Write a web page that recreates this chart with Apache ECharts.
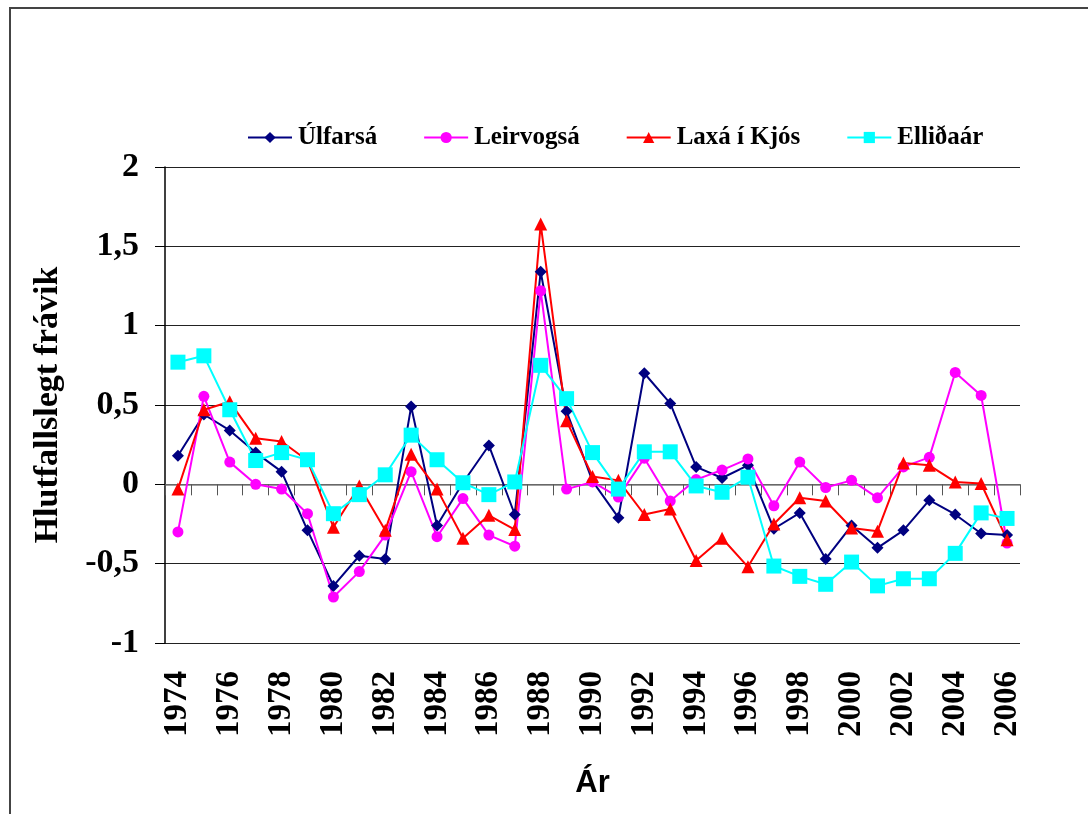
<!DOCTYPE html>
<html>
<head>
<meta charset="utf-8">
<script src="https://cdn.jsdelivr.net/npm/echarts@6/dist/echarts.min.js"></script>
<style>
  html, body { margin: 0; padding: 0; background: #fff; }
  #chart { width: 1088px; height: 814px; }
</style>
</head>
<body>
<div id="chart"></div>
<script>
// Years on the category axis
const years = [
  '1974','1975','1976','1977','1978','1979','1980','1981','1982','1983','1984',
  '1985','1986','1987','1988','1989','1990','1991','1992','1993','1994','1995',
  '1996','1997','1998','1999','2000','2001','2002','2003','2004','2005','2006'
];

// Relative deviation per river
const ulfarsa = [
  0.18, 0.44, 0.34, 0.20, 0.08, -0.29, -0.64, -0.45, -0.47, 0.49, -0.26,
  0.01, 0.245, -0.19, 1.34, 0.46, 0.02, -0.21, 0.70, 0.51, 0.11, 0.04,
  0.12, -0.28, -0.18, -0.47, -0.26, -0.40, -0.29, -0.10, -0.19, -0.31, -0.32
];
const leirvogsa = [
  -0.30, 0.555, 0.14, 0.00, -0.03, -0.185, -0.71, -0.55, -0.32, 0.08, -0.33,
  -0.09, -0.32, -0.39, 1.22, -0.03, 0.015, -0.08, 0.165, -0.105, 0.03, 0.09,
  0.16, -0.135, 0.14, -0.02, 0.025, -0.085, 0.11, 0.17, 0.705, 0.56, -0.37
];
const laxaIKjos = [
  -0.03, 0.47, 0.52, 0.29, 0.27, 0.15, -0.27, -0.01, -0.29, 0.19, -0.03,
  -0.34, -0.195, -0.285, 1.64, 0.40, 0.05, 0.025, -0.19, -0.155, -0.48, -0.34,
  -0.52, -0.25, -0.085, -0.105, -0.275, -0.295, 0.135, 0.12, 0.015, 0.005, -0.35
];
const ellidaar = [
  0.77, 0.81, 0.47, 0.15, 0.20, 0.155, -0.185, -0.065, 0.06, 0.31, 0.155,
  0.01, -0.065, 0.015, 0.75, 0.54, 0.20, -0.03, 0.205, 0.205, -0.01, -0.05,
  0.045, -0.515, -0.58, -0.63, -0.49, -0.64, -0.595, -0.595, -0.435, -0.18, -0.215
];

const yTicks = { min: -1, max: 2, interval: 0.5 };

const serifBold = { fontFamily: '"Liberation Serif", "Times New Roman", serif', fontWeight: 'bold', color: '#000' };

function lineSeries(name, data, color, symbol, size) {
  return {
    name, type: 'line', data,
    symbol, symbolSize: size,
    lineStyle: { color, width: 2 },
    itemStyle: { color },
    emphasis: { disabled: true },
    animation: false
  };
}

const chart = echarts.init(document.getElementById('chart'), null, { renderer: 'canvas' });

chart.setOption({
  backgroundColor: '#fff',
  animation: false,
  graphic: [{
    type: 'rect',
    shape: { x: 10, y: 8, width: 1100, height: 830 },
    style: { fill: 'none', stroke: '#444', lineWidth: 2 },
    silent: true
  }],
  legend: {
    top: 120,
    left: 242,
    itemWidth: 44,
    itemHeight: 14,
    itemGap: 46,
    textStyle: Object.assign({}, serifBold, { fontSize: 25, padding: [0, 0, 0, 1] }),
    data: ['Úlfarsá', 'Leirvogsá', 'Laxá í Kjós', 'Elliðaár']
  },
  grid: { left: 165, right: 68, top: 167, bottom: 171 },
  xAxis: {
    type: 'category',
    data: years,
    boundaryGap: true,
    name: 'Ár',
    nameLocation: 'middle',
    nameGap: 125,
    nameTextStyle: { fontFamily: '"Liberation Sans", Arial, sans-serif', fontWeight: 'bold', fontSize: 31, color: '#000' },
    axisLine: { lineStyle: { color: '#808080', width: 1.5 } },
    axisTick: { show: true, interval: 0, length: 11, lineStyle: { color: '#555' } },
    axisLabel: Object.assign({}, serifBold, { fontSize: 33, rotate: 90, interval: 1, margin: 28 }),
    splitLine: { show: false }
  },
  yAxis: {
    type: 'value',
    min: yTicks.min, max: yTicks.max, interval: yTicks.interval,
    name: 'Hlutfallslegt frávik',
    nameLocation: 'middle',
    nameGap: 100,
    nameTextStyle: Object.assign({}, serifBold, { fontSize: 34 }),
    axisLine: { show: true, lineStyle: { color: '#000', width: 1.5 } },
    axisTick: { show: true, length: 10, lineStyle: { color: '#000' } },
    axisLabel: Object.assign({}, serifBold, {
      fontSize: 34, margin: 26,
      formatter: v => String(v).replace('.', ',')
    }),
    splitLine: { show: true, lineStyle: { color: '#222', width: 1.2 } }
  },
  series: [
    lineSeries('Úlfarsá', ulfarsa, '#000080', 'diamond', 12),
    lineSeries('Leirvogsá', leirvogsa, '#FF00FF', 'circle', 11),
    lineSeries('Laxá í Kjós', laxaIKjos, '#FF0000', 'triangle', 13),
    lineSeries('Elliðaár', ellidaar, '#00FFFF', 'rect', 15)
  ]
});
</script>
</body>
</html>
